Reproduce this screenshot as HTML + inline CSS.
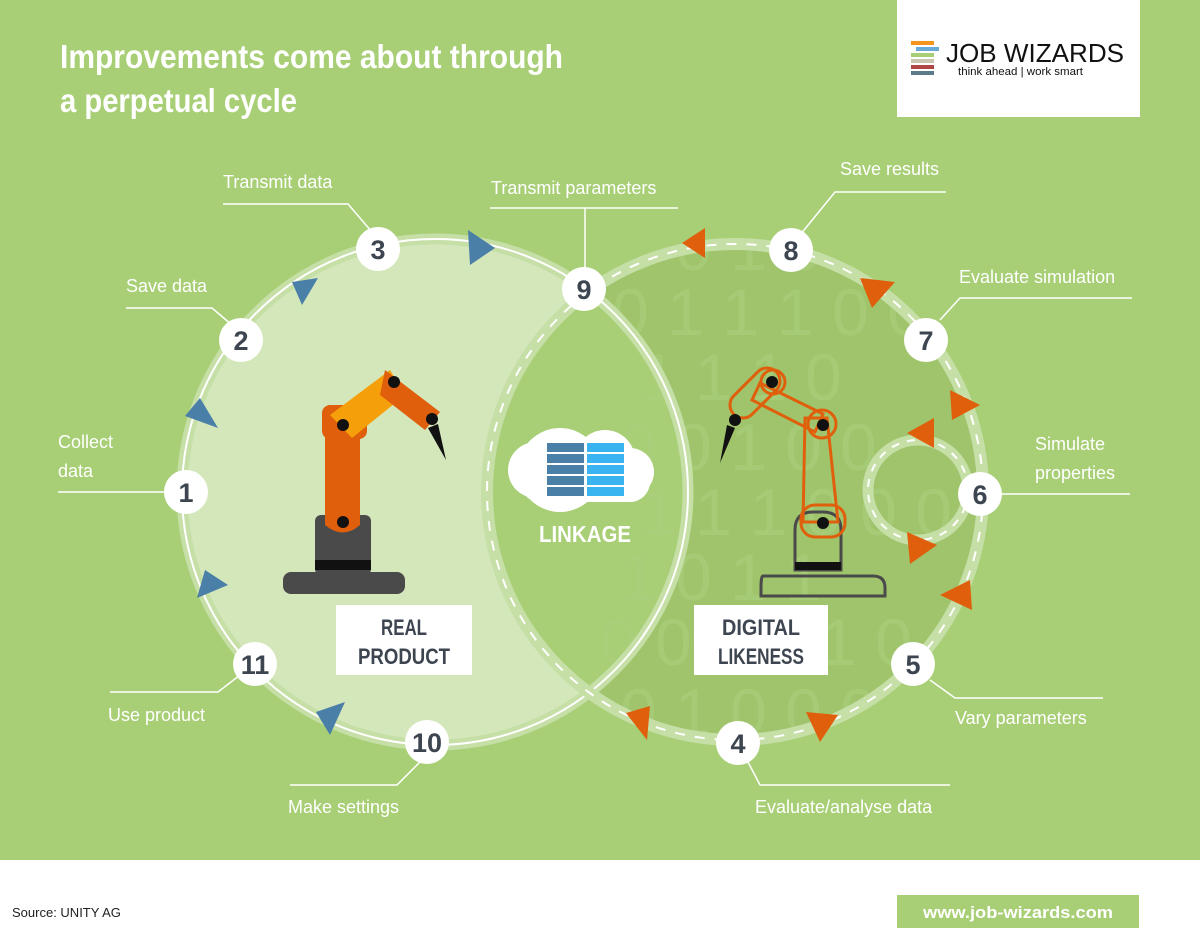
<!DOCTYPE html>
<html><head><meta charset="utf-8"><style>
body{margin:0;width:1200px;height:932px;overflow:hidden;background:#a8cf76;font-family:"Liberation Sans",sans-serif}
</style></head><body>
<svg width="1200" height="932" viewBox="0 0 1200 932" xmlns="http://www.w3.org/2000/svg" style="position:absolute;left:0;top:0">
<defs>
<clipPath id="rc"><circle cx="735" cy="492" r="250"/></clipPath>
<clipPath id="lc"><circle cx="435" cy="492" r="255"/></clipPath>
</defs>
<rect width="1200" height="860" fill="#a8cf76"/>
<circle cx="435" cy="492" r="255" fill="#d4e7bb"/>
<circle cx="735" cy="492" r="250" fill="#9fc46b"/>
<circle cx="735" cy="492" r="250" fill="#a8cf76" clip-path="url(#lc)"/>
<g clip-path="url(#rc)" fill="#aacf7c" font-size="66" font-family="Liberation Sans,sans-serif" opacity="0.7">
<text x="620" y="270">0 0 1 0</text>
<text x="612" y="335">0 1 1 1 0 0 1 0 0</text>
<text x="640" y="400">1        1 1 0</text>
<text x="620" y="470">0   0         1 0 0</text>
<text x="640" y="535">1 1 1       0 0 0</text>
<text x="620" y="600">1 0            1 1</text>
<text x="600" y="665">0 0 1       0 1 0 1</text>
<text x="620" y="735">0 1 0 0 0 1 1</text>
</g>
<circle cx="435" cy="492" r="253" fill="none" stroke="#c6dfa6" stroke-width="11"/>
<circle cx="435" cy="492" r="253" fill="none" stroke="#fff" stroke-width="2"/>
<circle cx="735" cy="492" r="248" fill="none" stroke="#c6dfa6" stroke-width="12"/>
<circle cx="735" cy="492" r="248" fill="none" stroke="#fff" stroke-width="2" stroke-dasharray="10 10"/>
<circle cx="918" cy="490" r="50" fill="none" stroke="#c6dfa6" stroke-width="11"/>
<circle cx="918" cy="490" r="50" fill="none" stroke="#fff" stroke-width="2" stroke-dasharray="8 8"/>
<g stroke="#fff" stroke-width="1.5" fill="none">
<polyline points="223,204 348,204 372,232"/>
<polyline points="126,308 212,308 232,325"/>
<polyline points="58,492 165,492"/>
<polyline points="110,692 218,692 240,675"/>
<polyline points="290,785 397,785 420,762"/>
<polyline points="490,208 678,208"/><line x1="585" y1="208" x2="585" y2="268"/>
<polyline points="800,235 835,192 946,192"/>
<polyline points="940,320 960,298 1132,298"/>
<polyline points="1000,494 1130,494"/>
<polyline points="930,680 955,698 1103,698"/>
<polyline points="748,762 760,785 950,785"/>
</g>
<g fill="#4a7fa8">
<polygon points="468,230 495,248 470,265"/>
<polygon points="292,282 318,278 302,305"/>
<polygon points="185,416 200,398 218,428"/>
<polygon points="197,598 205,570 228,585"/>
<polygon points="316,712 345,702 330,735"/>
</g>
<g fill="#e05f0c">
<polygon points="682,243 705,228 705,258"/>
<polygon points="860,278 895,282 872,308"/>
<polygon points="950,390 980,405 952,420"/>
<polygon points="907,433 934,418 934,448"/>
<polygon points="907,532 937,545 910,564"/>
<polygon points="940,595 970,580 972,610"/>
<polygon points="806,712 838,715 820,742"/>
<polygon points="626,713 650,706 647,740"/>
</g>
<g fill="#fff"><circle cx="186" cy="492" r="22"/><circle cx="241" cy="340" r="22"/><circle cx="378" cy="249" r="22"/><circle cx="584" cy="289" r="22"/><circle cx="791" cy="250" r="22"/><circle cx="926" cy="340" r="22"/><circle cx="980" cy="494" r="22"/><circle cx="913" cy="664" r="22"/><circle cx="738" cy="743" r="22"/><circle cx="427" cy="742" r="22"/><circle cx="255" cy="664" r="22"/></g>
<g fill="#3d4550" font-weight="bold" font-size="27" text-anchor="middle" font-family="Liberation Sans,sans-serif">
<text x="186" y="502">1</text><text x="241" y="350">2</text><text x="378" y="259">3</text><text x="584" y="299">9</text><text x="791" y="260">8</text><text x="926" y="350">7</text><text x="980" y="504">6</text><text x="913" y="674">5</text><text x="738" y="753">4</text><text x="427" y="752">10</text><text x="255" y="674">11</text>
</g>
<g fill="#fff" font-size="18" font-family="Liberation Sans,sans-serif">
<text x="223" y="188">Transmit data</text>
<text x="126" y="292">Save data</text>
<text x="58" y="448">Collect</text><text x="58" y="477">data</text>
<text x="108" y="721">Use product</text>
<text x="288" y="813">Make settings</text>
<text x="491" y="194">Transmit parameters</text>
<text x="840" y="175">Save results</text>
<text x="959" y="283">Evaluate simulation</text>
<text x="1035" y="450">Simulate</text><text x="1035" y="479">properties</text>
<text x="955" y="724">Vary parameters</text>
<text x="755" y="813">Evaluate/analyse data</text>
</g>
<g fill="#fff"><circle cx="560" cy="470" r="42"/><circle cx="536" cy="470" r="28"/><circle cx="605" cy="460" r="30"/><circle cx="630" cy="472" r="24"/><rect x="520" y="460" width="130" height="42" rx="20"/></g>
<g fill="#4a7fa8"><rect x="547" y="443" width="37" height="9"/><rect x="547" y="454" width="37" height="9"/><rect x="547" y="465" width="37" height="9"/><rect x="547" y="476" width="37" height="9"/><rect x="547" y="487" width="37" height="9"/></g>
<g fill="#3ab4f0"><rect x="587" y="443" width="37" height="9"/><rect x="587" y="454" width="37" height="9"/><rect x="587" y="465" width="37" height="9"/><rect x="587" y="476" width="37" height="9"/><rect x="587" y="487" width="37" height="9"/></g>
<text x="585" y="542" fill="#fff" font-weight="bold" font-size="23" text-anchor="middle" font-family="Liberation Sans,sans-serif" textLength="92" lengthAdjust="spacingAndGlyphs">LINKAGE</text>
<rect x="283" y="572" width="122" height="22" rx="8" fill="#4a4a4a"/>
<rect x="315" y="515" width="56" height="60" rx="6" fill="#4a4a4a"/>
<rect x="315" y="560" width="56" height="10" fill="#111"/>
<path d="M325 425 L360 425 L360 525 Q343 540 325 525Z" fill="#e05f0c"/>
<rect x="322" y="405" width="45" height="34" rx="8" fill="#e05f0c"/>
<polygon points="330,415 390,370 405,395 352,438" fill="#f5a00a"/>
<polygon points="385,370 440,412 425,430 380,395" fill="#e05f0c"/>
<polygon points="428,428 446,460 438,424" fill="#111"/>
<g fill="#111"><circle cx="343" cy="425" r="6"/><circle cx="394" cy="382" r="6"/><circle cx="432" cy="419" r="6"/><circle cx="343" cy="522" r="6"/></g>
<path d="M763 576 h110 q12 0 12 12 v8 h-124 v-8 q0-12 2-12z" fill="none" stroke="#4a4a4a" stroke-width="3"/>
<path d="M795 570 v-40 q0-18 18-18 h10 q18 0 18 18 v40z" fill="none" stroke="#4a4a4a" stroke-width="3"/>
<rect x="795" y="562" width="46" height="8" fill="#111"/>
<g fill="none" stroke="#e05f0c" stroke-width="3">
<rect x="801" y="505" width="44" height="32" rx="14"/>
<path d="M805 418 L827 418 L838 522 L803 522Z"/>
<circle cx="822" cy="424" r="14"/>
<path d="M760 383 L823 414 L815 432 L752 400Z"/>
<rect x="725" y="380" width="60" height="26" rx="13" transform="rotate(-45 755 393)"/>
<circle cx="773" cy="382" r="12"/>
</g>
<polygon points="727,425 720,463 735,428" fill="#111"/>
<g fill="#111"><circle cx="772" cy="382" r="6"/><circle cx="735" cy="420" r="6"/><circle cx="823" cy="425" r="6"/><circle cx="823" cy="523" r="6"/></g>
<rect x="336" y="605" width="136" height="70" fill="#fff"/>
<text x="404" y="635" fill="#3d4550" font-weight="bold" font-size="22" text-anchor="middle" font-family="Liberation Sans,sans-serif" textLength="46" lengthAdjust="spacingAndGlyphs">REAL</text>
<text x="404" y="664" fill="#3d4550" font-weight="bold" font-size="22" text-anchor="middle" font-family="Liberation Sans,sans-serif" textLength="92" lengthAdjust="spacingAndGlyphs">PRODUCT</text>
<rect x="694" y="605" width="134" height="70" fill="#fff"/>
<text x="761" y="635" fill="#3d4550" font-weight="bold" font-size="22" text-anchor="middle" font-family="Liberation Sans,sans-serif" textLength="78" lengthAdjust="spacingAndGlyphs">DIGITAL</text>
<text x="761" y="664" fill="#3d4550" font-weight="bold" font-size="22" text-anchor="middle" font-family="Liberation Sans,sans-serif" textLength="86" lengthAdjust="spacingAndGlyphs">LIKENESS</text>
<text x="60" y="68" fill="#fff" font-weight="bold" font-size="33" font-family="Liberation Sans,sans-serif" textLength="503" lengthAdjust="spacingAndGlyphs">Improvements come about through</text>
<text x="60" y="112" fill="#fff" font-weight="bold" font-size="33" font-family="Liberation Sans,sans-serif" textLength="237" lengthAdjust="spacingAndGlyphs">a perpetual cycle</text>
<rect x="897" y="0" width="243" height="117" fill="#fff"/>
<rect x="911" y="41" width="23" height="4" fill="#f7941d"/>
<rect x="916" y="47" width="23" height="4" fill="#6aaad6"/>
<rect x="911" y="53" width="23" height="4" fill="#a8cf76"/>
<rect x="911" y="59" width="23" height="4" fill="#c9c5b0"/>
<rect x="911" y="65" width="23" height="4" fill="#b04545"/>
<rect x="911" y="71" width="23" height="4" fill="#5b7a8a"/>
<text x="946" y="62" fill="#111" font-size="26" font-family="Liberation Sans,sans-serif" textLength="178" lengthAdjust="spacingAndGlyphs">JOB WIZARDS</text>
<text x="958" y="75" fill="#111" font-size="11" font-family="Liberation Sans,sans-serif" textLength="125" lengthAdjust="spacingAndGlyphs">think ahead | work smart</text>
<rect x="0" y="860" width="1200" height="72" fill="#fff"/>
<text x="12" y="917" fill="#222" font-size="13" font-family="Liberation Sans,sans-serif">Source: UNITY AG</text>
<rect x="897" y="895" width="242" height="33" fill="#a8cf76"/>
<text x="1018" y="918" fill="#fff" font-weight="bold" font-size="17" text-anchor="middle" font-family="Liberation Sans,sans-serif" textLength="190" lengthAdjust="spacingAndGlyphs">www.job-wizards.com</text>
</svg>
</body></html>
